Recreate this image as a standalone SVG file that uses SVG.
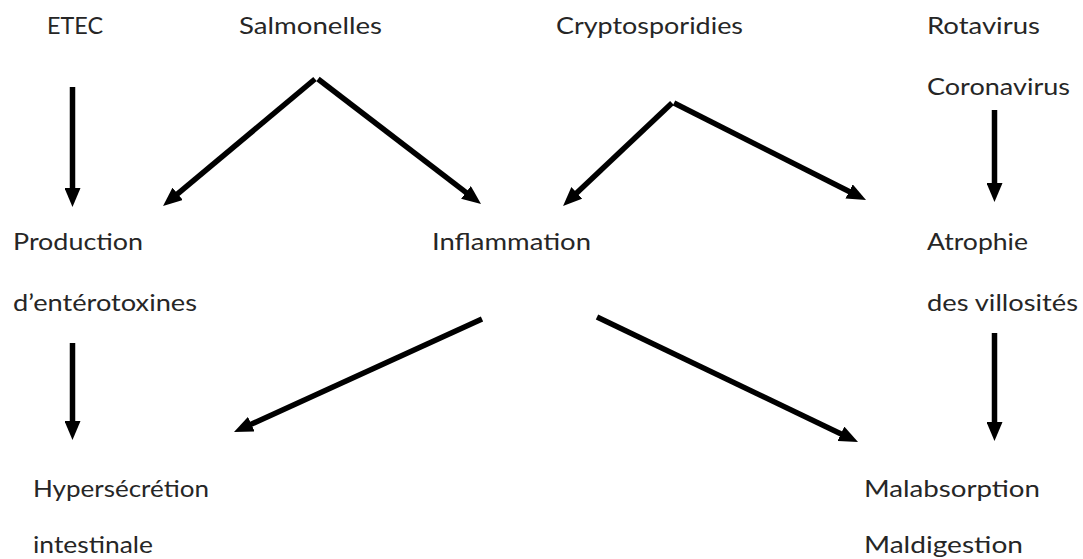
<svg xmlns="http://www.w3.org/2000/svg" width="1083" height="559" viewBox="0 0 1083 559">
  <style>
    .lbl { font-family: Lato, "Open Sans", "Liberation Sans", sans-serif; font-size: 23px; fill: #262626; }
    .arr { stroke: #000; stroke-width: 5.5; fill: none; marker-end: url(#head); }
  </style>
  <defs>
    <marker id="head" viewBox="0 0 19 16" markerWidth="19" markerHeight="16" refX="9" refY="8" orient="auto" markerUnits="userSpaceOnUse">
      <path d="M0,0 L19,8 L0,16 Z" fill="#000"/>
    </marker>
  </defs>
  <rect width="1083" height="559" fill="#fff"/>

  <g id="etec"><text class="lbl" x="47" y="34" textLength="56" lengthAdjust="spacingAndGlyphs">ETEC</text></g>
  <g id="salmonelles"><text class="lbl" x="239" y="34" textLength="143" lengthAdjust="spacingAndGlyphs">Salmonelles</text></g>
  <g id="cryptosporidies"><text class="lbl" x="556" y="34" textLength="187" lengthAdjust="spacingAndGlyphs">Cryptosporidies</text></g>
  <g id="virus">
    <text class="lbl" x="927" y="34" textLength="113" lengthAdjust="spacingAndGlyphs">Rotavirus</text>
    <text class="lbl" x="927" y="95" textLength="143" lengthAdjust="spacingAndGlyphs">Coronavirus</text>
  </g>
  <g id="production">
    <text class="lbl" x="13" y="250" textLength="130" lengthAdjust="spacingAndGlyphs">Production</text>
    <text class="lbl" x="13" y="311" textLength="184" lengthAdjust="spacingAndGlyphs">d’entérotoxines</text>
  </g>
  <g id="inflammation"><text class="lbl" x="432" y="250" textLength="159" lengthAdjust="spacingAndGlyphs">Inflammation</text></g>
  <g id="atrophie">
    <text class="lbl" x="927" y="250" textLength="101" lengthAdjust="spacingAndGlyphs">Atrophie</text>
    <text class="lbl" x="927" y="311" textLength="151" lengthAdjust="spacingAndGlyphs">des villosités</text>
  </g>
  <g id="hypersecretion">
    <text class="lbl" x="33" y="497" textLength="176" lengthAdjust="spacingAndGlyphs">Hypersécrétion</text>
    <text class="lbl" x="33" y="553" textLength="120" lengthAdjust="spacingAndGlyphs">intestinale</text>
  </g>
  <g id="malabsorption">
    <text class="lbl" x="864" y="497" textLength="176" lengthAdjust="spacingAndGlyphs">Malabsorption</text>
    <text class="lbl" x="864" y="553" textLength="159" lengthAdjust="spacingAndGlyphs">Maldigestion</text>
  </g>

  <g id="connectors">
    <line class="arr" x1="72.5" y1="87" x2="72.5" y2="197"/>
    <line class="arr" x1="315" y1="79" x2="170.7" y2="199.6"/>
    <line class="arr" x1="318" y1="79" x2="473.1" y2="197.9"/>
    <line class="arr" x1="672" y1="103" x2="570.3" y2="199.1"/>
    <line class="arr" x1="674" y1="103" x2="857.1" y2="195.5"/>
    <line class="arr" x1="994.5" y1="110" x2="994.5" y2="192"/>
    <line class="arr" x1="72.5" y1="343" x2="72.5" y2="430"/>
    <line class="arr" x1="994.5" y1="333" x2="994.5" y2="431"/>
    <line class="arr" x1="482" y1="319" x2="243.1" y2="427.9"/>
    <line class="arr" x1="597" y1="317" x2="849" y2="437.7"/>
  </g>
</svg>
